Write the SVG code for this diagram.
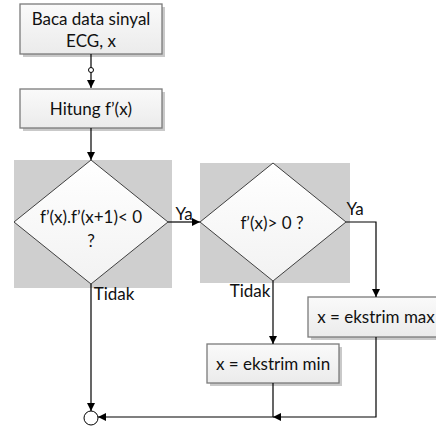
<svg xmlns="http://www.w3.org/2000/svg" width="436" height="427" viewBox="0 0 436 427">
<style>
.t{font-family:Lato,"Liberation Sans",sans-serif;font-size:17px;fill:#111;text-anchor:middle}
.bx{fill:url(#g);stroke:#7a7a7a;stroke-width:1.3}
.sh{fill:#c9c9c9}
.bg{fill:#cfcfcf}
.dm{fill:url(#g2);stroke:#404040;stroke-width:1}
.c{fill:none;stroke:#000;stroke-width:1.2}
</style>
<defs>
<linearGradient id="g" x1="0" y1="0" x2="0" y2="1"><stop offset="0" stop-color="#fafafa"/><stop offset="1" stop-color="#ebebeb"/></linearGradient>
<linearGradient id="g2" x1="0" y1="0" x2="0" y2="1"><stop offset="0" stop-color="#ffffff"/><stop offset="1" stop-color="#f2f2f2"/></linearGradient>
<marker id="a" viewBox="0 0 10 10" refX="10" refY="5" markerWidth="8" markerHeight="8" markerUnits="userSpaceOnUse" orient="auto"><path d="M0,0L10,5L0,10z" fill="#000"/></marker>
</defs>
<g id="read">
<rect class="sh" x="23" y="7" width="142" height="50"/>
<rect class="bx" x="20" y="4" width="142" height="50"/>
<text class="t" x="91" y="25">Baca data sinyal</text>
<text class="t" x="91" y="47">ECG, x</text>
</g>
<g id="hitung">
<rect class="sh" x="23" y="92" width="142" height="39"/>
<rect class="bx" x="20" y="89" width="142" height="39"/>
<text class="t" x="91" y="115">Hitung f’(x)</text>
</g>
<g id="dec1">
<rect class="bg" x="14" y="160" width="158" height="128"/>
<polygon class="dm" points="91,160 168,222 91,284 14,222"/>
<text class="t" x="91" y="223">f’(x).f’(x+1)&lt; 0</text>
<text class="t" x="91" y="247">?</text>
</g>
<g id="dec2">
<rect class="bg" x="200" y="163" width="150" height="120"/>
<polygon class="dm" points="273,163 346,222 273,281 200,222"/>
<text class="t" x="272" y="229">f’(x)&gt; 0 ?</text>
</g>
<g id="max">
<rect class="sh" x="311" y="300" width="130" height="40"/>
<rect class="bx" x="308" y="297" width="132" height="40"/>
<text class="t" x="376" y="323">x = ekstrim max</text>
</g>
<g id="min">
<rect class="sh" x="210" y="347" width="132" height="39"/>
<rect class="bx" x="207" y="344" width="132" height="39"/>
<text class="t" x="273" y="370">x = ekstrim min</text>
</g>
<g id="end">
<circle cx="91" cy="418" r="7" fill="#fff" stroke="#000" stroke-width="1"/>
</g>
<g id="connectors">
<path class="c" d="M91,54V88" marker-end="url(#a)"/>
<circle cx="91" cy="70" r="2.5" fill="#fff" stroke="#000" stroke-width="1"/>
<path class="c" d="M91,128V160" marker-end="url(#a)"/>
<path class="c" d="M168,222H200" marker-end="url(#a)"/>
<path class="c" d="M346,222H376V297" marker-end="url(#a)"/>
<path class="c" d="M273,281V344" marker-end="url(#a)"/>
<path class="c" d="M91,284V411" marker-end="url(#a)"/>
<path class="c" d="M376,337V417H273" marker-end="url(#a)"/>
<path class="c" d="M273,383V417H98" marker-end="url(#a)"/>
</g>
<g id="labels">
<text class="t" x="184" y="220">Ya</text>
<text class="t" x="355" y="215">Ya</text>
<text class="t" x="114" y="300">Tidak</text>
<text class="t" x="250" y="297">Tidak</text>
</g>
</svg>
